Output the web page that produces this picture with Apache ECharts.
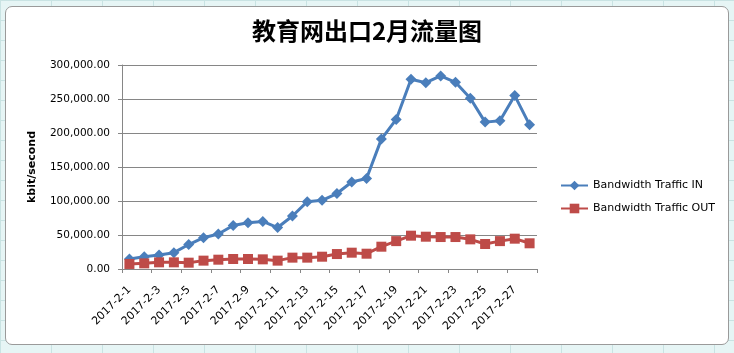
<!DOCTYPE html>
<html>
<head>
<meta charset="utf-8">
<script src="https://cdn.jsdelivr.net/npm/echarts@6/dist/echarts.min.js"></script>
<style>
html, body { margin: 0; padding: 0; }
body {
	width: 734px; height: 353px; overflow: hidden;
	background-color: #e6f5f5;
	background-image:
		linear-gradient(to right, #c9e3e3 1px, transparent 1px),
		linear-gradient(to bottom, #c9e3e3 1px, transparent 1px);
	background-size: 51px 100%, 100% 20px;
	position: relative;
}
#frame {
	position: absolute; left: 5px; top: 6px; width: 722px; height: 337px;
	background: #fff; border: 1px solid #9a9a9a; border-radius: 7px;
}
#main { position: absolute; left: 0; top: 0; width: 734px; height: 353px; }
</style>
</head>
<body>
<div id="frame"></div>
<div id="main"></div>
<script>
/** 数据 */
var dates = [] // 2017-2-1 ... 2017-2-28
for (var d = 1; d <= 28; d++) dates.push('2017-2-' + d)

var trafficIn = [14700, 18000, 20600, 24000, 36000, 46000, 51500, 64000, 68000, 70000,
	61000, 78000, 99000, 101000, 111000, 128000, 133000, 191000, 220000, 279000,
	274000, 284000, 274500, 251000, 216000, 218000, 255000, 212000]

var trafficOut = [7400, 8300, 9800, 9800, 9300, 12300, 13700, 14700, 14700, 14200,
	12300, 16700, 16700, 18100, 22000, 24000, 22500, 32800, 41000, 49000,
	47500, 47000, 47000, 43600, 36800, 41000, 44600, 37800]

var seriesNames = ['Bandwidth Traffic IN', 'Bandwidth Traffic OUT']

/** 格式化 */
var fmt = function(v) {
	return v.toLocaleString('en-US', {minimumFractionDigits: 2, maximumFractionDigits: 2})
}

var myChart = echarts.init(document.getElementById('main'))

var option = {
	animation: false,
	title: {
		text: '教育网出口2月流量图',
		left: 'center',
		top: 14,
		textStyle: {
			fontFamily: 'Noto Sans CJK SC',
			fontSize: 24,
			fontWeight: 'bold',
			color: '#000'
		}
	},
	legend: {
		orient: 'vertical',
		left: 560,
		top: 180,
		padding: 0,
		itemWidth: 27,
		itemHeight: 12,
		itemGap: 12,
		data: seriesNames,
		textStyle: {
			fontFamily: 'DejaVu Sans',
			fontSize: 11,
			color: '#000'
		}
	},
	grid: {
		left: 122,
		right: 197,
		top: 65,
		bottom: 84,
		containLabel: false
	},
	xAxis: {
		type: 'category',
		data: dates,
		boundaryGap: true,
		axisLine: { lineStyle: { color: '#868686', width: 1 } },
		axisTick: { show: true, length: 4, lineStyle: { color: '#868686' } },
		axisLabel: {
			interval: 1,
			rotate: 45,
			margin: 19,
			fontFamily: 'DejaVu Sans',
			fontSize: 11,
			color: '#000'
		}
	},
	yAxis: {
		type: 'value',
		min: 0,
		max: 300000,
		interval: 50000,
		name: 'kbit/second',
		nameLocation: 'middle',
		nameRotate: 90,
		nameGap: 84,
		nameTextStyle: {
			fontFamily: 'DejaVu Sans',
			fontSize: 11,
			fontWeight: 'bold',
			color: '#000'
		},
		axisLine: { show: true, lineStyle: { color: '#868686', width: 1 } },
		axisTick: { show: true, length: 4, lineStyle: { color: '#868686' } },
		splitLine: { lineStyle: { color: '#868686', width: 1 } },
		axisLabel: {
			formatter: fmt,
			margin: 12,
			fontFamily: 'DejaVu Sans',
			fontSize: 10.5,
			color: '#000'
		}
	},
	series: [
		{
			name: seriesNames[0],
			type: 'line',
			data: trafficIn,
			symbol: 'diamond',
			symbolSize: 11,
			showAllSymbol: true,
			itemStyle: { color: '#4a7ebb' },
			lineStyle: { color: '#4a7ebb', width: 3 }
		},
		{
			name: seriesNames[1],
			type: 'line',
			data: trafficOut,
			symbol: 'rect',
			symbolSize: 10,
			showAllSymbol: true,
			itemStyle: { color: '#be4b48' },
			lineStyle: { color: '#be4b48', width: 3 }
		}
	]
}

myChart.setOption(option)
</script>
</body>
</html>
